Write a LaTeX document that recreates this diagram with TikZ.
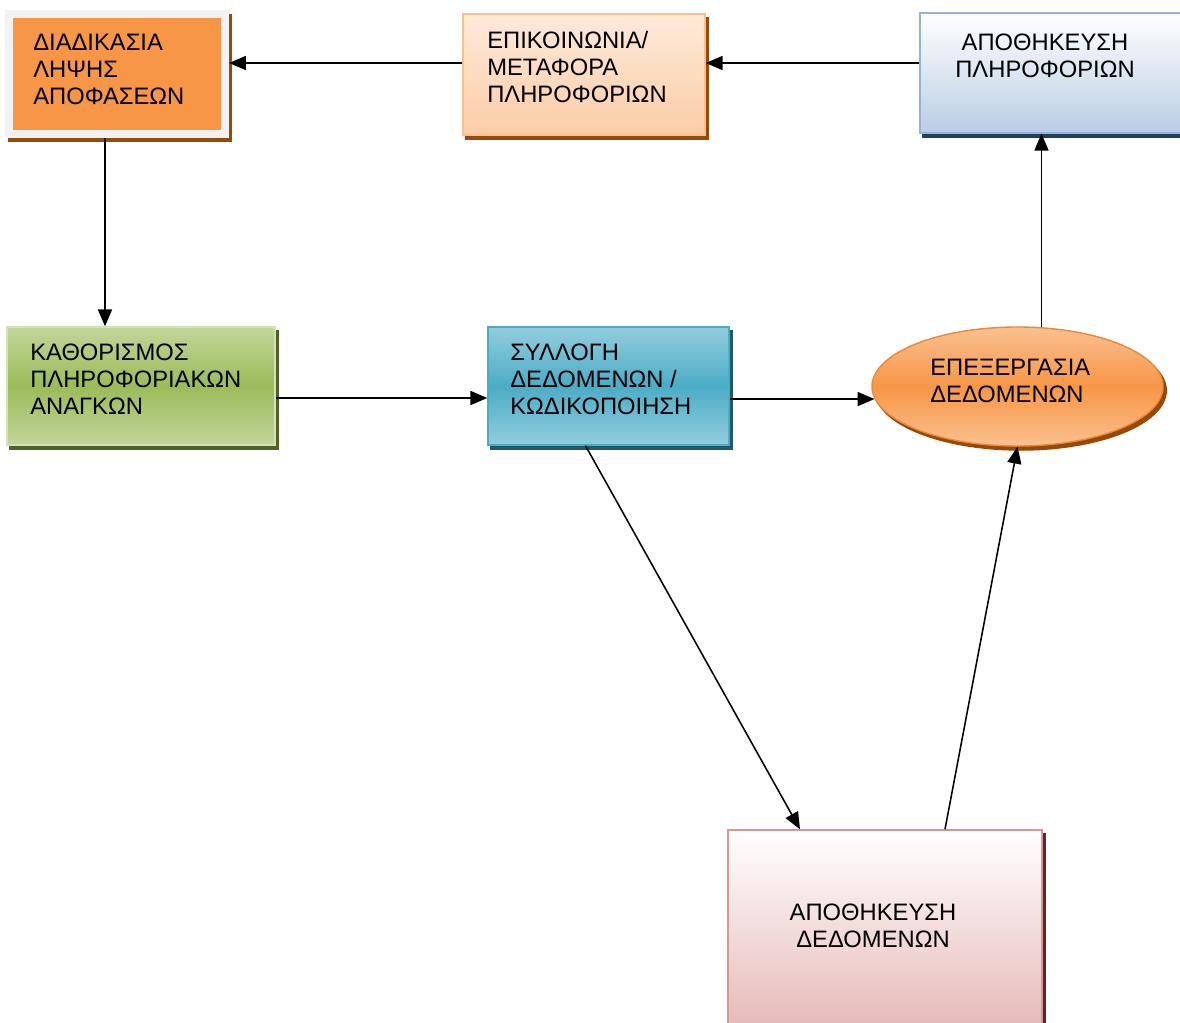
\documentclass[tikz,border=0pt]{standalone}
\usepackage{fontspec}
\setmainfont{Liberation Sans}
\usetikzlibrary{arrows.meta,calc,shapes.geometric,shadows}
\definecolor{cOrange}{HTML}{F79646}
\definecolor{cBrown}{HTML}{984807}
\definecolor{cFrame}{HTML}{F2F2F2}
\definecolor{cPeach}{HTML}{FAC090}
\definecolor{cPeachL}{HTML}{FDEADA}
\definecolor{cBlueL}{HTML}{B9CDE5}
\definecolor{cBlueB}{HTML}{95B3D7}
\definecolor{cNavy}{HTML}{244061}
\definecolor{cGreenL}{HTML}{C3D69B}
\definecolor{cGreen}{HTML}{9BBB59}
\definecolor{cOlive}{HTML}{4F6228}
\definecolor{cAquaL}{HTML}{93CDDD}
\definecolor{cAqua}{HTML}{4BACC6}
\definecolor{cTeal}{HTML}{215968}
\definecolor{cOrangeD}{HTML}{E46C0A}
\definecolor{cPinkL}{HTML}{E6B9B8}
\definecolor{cPinkB}{HTML}{D99694}
\definecolor{cWine}{HTML}{632523}

\begin{document}
\begin{tikzpicture}[x=0.025cm,y=-0.025cm,
      font=\fontsize{16.9}{19.2}\selectfont,
      box/.style={rectangle,inner sep=0pt,line width=1pt},
      shd/.style={general shadow={fill=#1,draw=#1,shadow xshift=0.08cm,shadow yshift=-0.1cm}},
      lbl/.style={anchor=base west,align=left,inner sep=0pt},
      mid/.style={anchor=base,align=center,inner sep=0pt},
      arr/.style={-{Triangle[length=12pt,width=10pt]},line width=1.1pt}]
    \useasboundingbox (0,0) rectangle (1180,1022);
    \clip (0,0) rectangle (1180,1022);
    \node[box,shd=cBrown,fill=cOrange,draw=cFrame,line width=0.2cm,
      minimum width=5.4cm,minimum height=3cm] (dec) at (117,74) {};
    \node[box,shd=cBrown,draw=cPeach,top color=cPeachL,bottom color=cPeach!80,
      minimum width=6.05cm,minimum height=3.025cm] (com) at (584,74.5) {};
    \node[box,shd=cNavy,draw=cBlueB,top color=white,bottom color=cBlueL,
      minimum width=6.625cm,minimum height=3cm] (infst) at (1052.5,73) {};
    \node[box,shd=cOlive,draw=cGreenL!70!white,top color=cGreenL,bottom color=cGreenL,middle color=cGreen,
      minimum width=6.7cm,minimum height=2.95cm] (needs) at (141,386) {};
    \node[box,shd=cTeal,draw=cAqua,top color=cAquaL,bottom color=cAquaL,middle color=cAqua,
      minimum width=6.025cm,minimum height=2.95cm] (coll) at (608.5,386) {};
    \node[ellipse,inner sep=0pt,line width=1pt,shd=cBrown,draw=cOrangeD!80,
      top color=cPeach,bottom color=cPeach,middle color=cOrange,
      minimum width=7.275cm,minimum height=2.975cm] (proc) at (1017.5,386.5) {};
    \node[box,shd=cWine,draw=cPinkB,top color=white,bottom color=cPinkL,
      minimum width=7.85cm,minimum height=5cm] (datst) at (885,930) {};

    \node[lbl] (decT) at (33,104) {ΔΙΑΔΙΚΑΣΙΑ\\ΛΗΨΗΣ\\ΑΠΟΦΑΣΕΩΝ};
    \node[lbl] (comT) at (487,102) {ΕΠΙΚΟΙΝΩΝΙΑ/\\ΜΕΤΑΦΟΡΑ\\ΠΛΗΡΟΦΟΡΙΩΝ};
    \node[mid] (infstT) at (1045,77) {ΑΠΟΘΗΚΕΥΣΗ\\ΠΛΗΡΟΦΟΡΙΩΝ};
    \node[lbl] (needsT) at (30,414) {ΚΑΘΟΡΙΣΜΟΣ\\ΠΛΗΡΟΦΟΡΙΑΚΩΝ\\ΑΝΑΓΚΩΝ};
    \node[lbl] (collT) at (510,414) {ΣΥΛΛΟΓΗ\\ΔΕΔΟΜΕΝΩΝ /\\ΚΩΔΙΚΟΠΟΙΗΣΗ};
    \node[lbl] (procT) at (930,402) {ΕΠΕΞΕΡΓΑΣΙΑ\\ΔΕΔΟΜΕΝΩΝ};
    \node[mid] (datstT) at (873,947) {ΑΠΟΘΗΚΕΥΣΗ\\ΔΕΔΟΜΕΝΩΝ};

    \coordinate (toprow) at (0,63);
    \coordinate (midrow) at (0,398);
    \draw[arr] (com.west |- toprow) -- (dec.east |- toprow);
    \draw[arr] (infst.west |- toprow) -- (com.east |- toprow);
    \draw[arr] (dec.south -| 105,0) -- (needs.north -| 105,0);
    \draw[arr] (needs.east |- midrow) -- (coll.west |- midrow);
    \draw[arr] (coll.east |- proc.185) -- (proc.185);
    \draw[arr] (proc.68) -- (infst.south -| proc.68);
    \draw[arr] ($(coll.south)+(-23,0)$) -- ($(datst.north)+(-85,0)$);
    \draw[arr] ($(datst.north)+(60,0)$) -- (proc.south);
  \end{tikzpicture}
\end{document}
